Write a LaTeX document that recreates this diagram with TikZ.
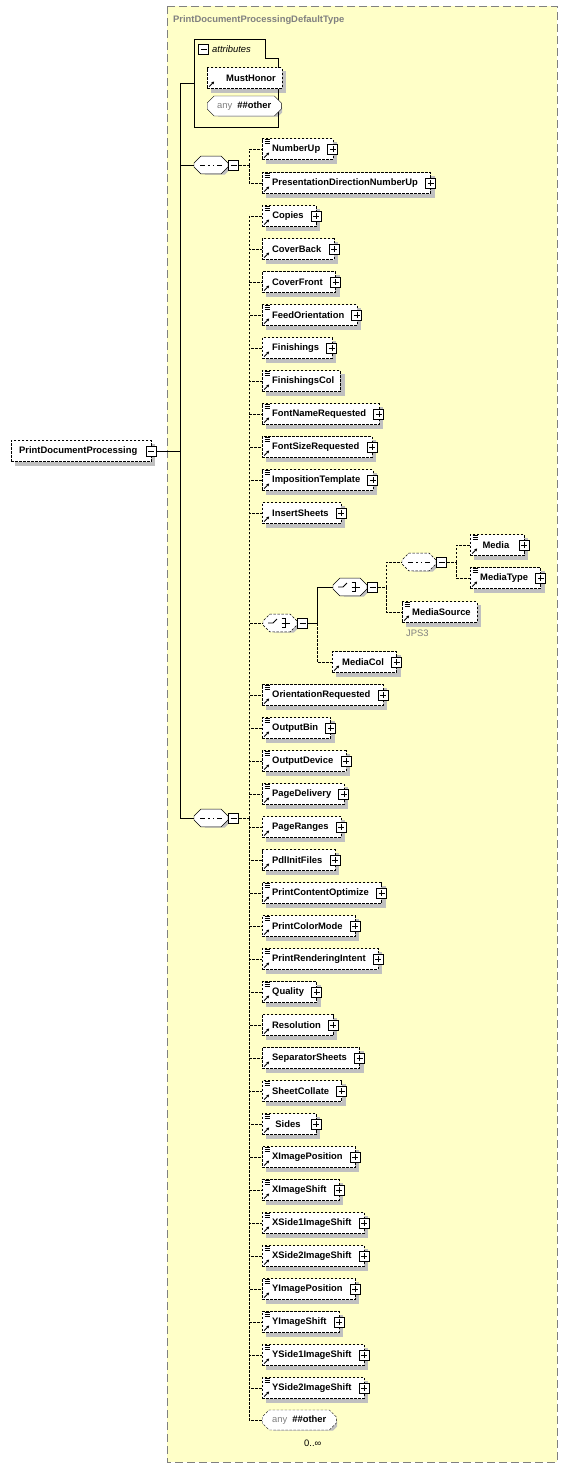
\documentclass[tikz,border=0pt]{standalone}
\usepackage{fontspec}
\newfontfamily\diagfont{Liberation Sans}
\usetikzlibrary{positioning}
\usetikzlibrary{shapes.misc}
\usetikzlibrary{arrows.meta}

\pgfdeclarelayer{back}
\pgfdeclarelayer{shadow}
\pgfsetlayers{back,shadow,main}

\definecolor{typebg}{RGB}{255,255,200}
\definecolor{shadegray}{RGB}{192,192,192}
\definecolor{framegray}{RGB}{128,128,128}

\newcommand{\elemfont}{\diagfont\bfseries\fontsize{9.4}{11}\selectfont}
\newcommand{\attrfont}{\diagfont\itshape\fontsize{9.4}{11}\selectfont}
\newcommand{\notefont}{\diagfont\fontsize{9.4}{11}\selectfont}

% little icons drawn inside the boxes
\newcommand{\refmark}{\draw[solid,line width=0.9pt,-{Triangle[length=2.6pt,width=2.8pt]}]
    ([shift={(2pt,2pt)}]path picture bounding box.south west) -- ++(5pt,5pt);}
\newcommand{\docmark}{\foreach \k in {0,1.7,3.4}
    \draw[solid,line width=0.7pt] ([shift={(2.5pt,-1.3pt-\k pt)}]path picture bounding box.north west) -- ++(5.5pt,0pt);}
\newcommand{\plusmark}{\draw[solid,line width=0.8pt]
    ([yshift=2pt]path picture bounding box.south) -- ([yshift=-2pt]path picture bounding box.north)
    ([xshift=2pt]path picture bounding box.west) -- ([xshift=-2pt]path picture bounding box.east);}
\newcommand{\minusmark}{\draw[solid,line width=0.8pt]
    ([xshift=2pt]path picture bounding box.west) -- ([xshift=-2pt]path picture bounding box.east);}
\newcommand{\seqmark}{\draw[solid,line width=0.8pt]
    ([xshift=-11pt]path picture bounding box.center) -- ([xshift=11pt]path picture bounding box.center);
  \foreach \k in {-4.5,0,4.5}
    \fill ([shift={(\k pt-1.5pt,-1.5pt)}]path picture bounding box.center) rectangle ++(3pt,3pt);}
\newcommand{\choicemark}{\draw[solid,line width=0.8pt]
    ([xshift=-12pt]path picture bounding box.center) -- ([xshift=-7pt]path picture bounding box.center)
    -- ([shift={(-3pt,4pt)}]path picture bounding box.center);
  \foreach \k in {-4.5,0,4.5}
    \fill ([shift={(-1.5pt,\k pt-1.5pt)}]path picture bounding box.center) rectangle ++(3pt,3pt);
  \draw[solid,line width=0.8pt]
    ([shift={(1.5pt,4.5pt)}]path picture bounding box.center) -| ([shift={(5pt,-4.5pt)}]path picture bounding box.center)
    -- ([shift={(1.5pt,-4.5pt)}]path picture bounding box.center)
    ([xshift=1.5pt]path picture bounding box.center) -- ([xshift=10pt]path picture bounding box.center);}

% grey shadow behind a box or an octagon
\newcommand{\boxshadow}[1]{\fill[shadegray] ([shift={(4pt,-4pt)}]#1.south west) rectangle ([shift={(4pt,-4pt)}]#1.north east);}
\newcommand{\octshadow}[1]{\fill[shadegray]
    ([shift={(8pt,-4pt)}]#1.north west) -- ([shift={(0pt,-4pt)}]#1.north east) -- ([shift={(4pt,-8pt)}]#1.north east)
    -- ([shift={(4pt,0pt)}]#1.south east) -- ([shift={(0pt,-4pt)}]#1.south east) -- ([shift={(8pt,-4pt)}]#1.south west)
    -- ([shift={(4pt,0pt)}]#1.south west) -- ([shift={(4pt,-8pt)}]#1.north west) -- cycle;}

\tikzset{
  optional/.style={dash pattern=on 2.5pt off 1.5pt},
  elembox/.style={draw,optional,fill=white,inner sep=0pt,minimum height=21pt,minimum width=54pt,
    anchor=west,font=\elemfont},
  plusbox/.style={draw,solid,fill=white,line width=1pt,minimum size=10pt,inner sep=0pt,
    path picture={\plusmark}},
  minusbox/.style={draw,solid,fill=white,line width=1pt,minimum size=10pt,inner sep=0pt,
    path picture={\minusmark}},
  more/.style={label={[plusbox,anchor=center]east:{}}},
  elem/.style={elembox,path picture={\refmark},execute at begin node={\hspace*{10pt}},
    execute at end node={\hspace*{12.5pt}},more},
  delem/.style={elem,path picture={\refmark\docmark}},
  leaf/.style={elembox,path picture={\refmark},execute at begin node={\hspace*{10pt}},
    execute at end node={\hspace*{6pt}}},
  dleaf/.style={leaf,path picture={\refmark\docmark}},
  rootelem/.style={elembox,minimum width=0pt,execute at begin node={\hspace*{8pt}},
    execute at end node={\hspace*{14pt}}},
  comp/.style={chamfered rectangle,chamfered rectangle xsep=4pt,draw,fill=white,
    inner sep=0pt,text width=26pt,text height=8pt,text depth=4pt},
  seqcomp/.style={comp,path picture={\seqmark}},
  choicecomp/.style={comp,path picture={\choicemark}},
  anynode/.style={chamfered rectangle,chamfered rectangle xsep=4pt,draw,fill=white,
    minimum height=20pt,inner sep=0pt,anchor=west,font=\elemfont,
    execute at begin node={\hspace*{6pt}},execute at end node={\hspace*{6pt}}},
  conn/.style={optional},
  tree/.style={solid},
  elbow/.style={to path={|- (\tikztotarget)}}
}

\begin{document}
\begin{tikzpicture}[x=1pt,y=-1pt,line width=0.8pt,label distance=0pt]
  \useasboundingbox (0,0) rectangle (567,1468);
  \begin{pgfonlayer}{back}
    \draw[framegray,fill=typebg,dash pattern=on 8pt off 4pt] (167,6) rectangle (557,1462);
  \end{pgfonlayer}
  \node[anchor=west,inner sep=0pt,text=framegray,font=\elemfont] (typetitle) at (173,20) {PrintDocumentProcessingDefaultType};

  % root element
  \node[rootelem] (pdp) at (11,451) {PrintDocumentProcessing};
  \node[minusbox] (pdpm) at (pdp.east) {};
  \coordinate (bus) at (180,451);

  % attributes
  \draw (194,127) -- (194,39) -- (265,39) -- (265,58) -- (278,58) -- (278,127) -- cycle;
  \coordinate (attrw) at (194,83);
  \node[minusbox] (attrm) at (203.5,49) {};
  \node[anchor=west,inner sep=0pt,font=\attrfont] (attrtitle) at (212,49) {attributes};
  \node[leaf,minimum width=66pt,execute at begin node={\hspace*{9pt}}] (musthonor) at (207,78) {MustHonor};
  \node[anynode,minimum width=66pt] (anyattr) at (207,106) {{\color{framegray}\mdseries any}\hspace{5pt}\#\#other};

  % first sequence
  \node[seqcomp] (seqA) at (211,165) {};
  \node[minusbox,anchor=west] (seqAm) at (seqA.east) {};
  \coordinate (busA) at (249,165);
  \node[delem] (numberup) at (262,149) {NumberUp};
  \node[delem] (presdirnumberup) at (262,183) {PresentationDirectionNumberUp};

  % second sequence
  \node[seqcomp] (seqB) at (211,818) {};
  \node[minusbox,anchor=west] (seqBm) at (seqB.east) {};
  \coordinate (busB) at (249,818);
  \node[delem] (copies) at (262,216) {Copies};
  \node[elem] (coverback) at (262,249) {CoverBack};
  \node[elem] (coverfront) at (262,282) {CoverFront};
  \node[delem] (feedorientation) at (262,315) {FeedOrientation};
  \node[elem] (finishings) at (262,348) {Finishings};
  \node[dleaf] (finishingscol) at (262,381) {FinishingsCol};
  \node[delem] (fontnamerequested) at (262,414) {FontNameRequested};
  \node[delem] (fontsizerequested) at (262,447) {FontSizeRequested};
  \node[delem] (impositiontemplate) at (262,480) {ImpositionTemplate};
  \node[elem] (insertsheets) at (262,513) {InsertSheets};

  % media choice
  \node[choicecomp,optional] (chA) at (280,623) {};
  \node[minusbox,anchor=west] (chAm) at (chA.east) {};
  \coordinate (busC) at (317,623);
  \node[choicecomp] (chB) at (350,587) {};
  \node[minusbox,anchor=west] (chBm) at (chB.east) {};
  \coordinate (busD) at (386,587);
  \node[seqcomp,optional] (seqC) at (419,562) {};
  \node[minusbox,anchor=west] (seqCm) at (seqC.east) {};
  \coordinate (busE) at (456,562);
  \node[delem] (media) at (470,545) {Media};
  \node[delem] (mediatype) at (470,578) {MediaType};
  \node[dleaf] (mediasource) at (402,612) {MediaSource};
  \node[anchor=west,inner sep=0pt,text=framegray,font=\notefont] (jps3) at (406,633) {JPS3};
  \node[elem] (mediacol) at (332,662) {MediaCol};

  \node[delem] (orientationrequested) at (262,695) {OrientationRequested};
  \node[delem] (outputbin) at (262,728) {OutputBin};
  \node[delem] (outputdevice) at (262,761) {OutputDevice};
  \node[delem] (pagedelivery) at (262,794) {PageDelivery};
  \node[elem] (pageranges) at (262,827) {PageRanges};
  \node[elem] (pdlinitfiles) at (262,860) {PdlInitFiles};
  \node[delem] (printcontentoptimize) at (262,893) {PrintContentOptimize};
  \node[delem] (printcolormode) at (262,926) {PrintColorMode};
  \node[delem] (printrenderingintent) at (262,959) {PrintRenderingIntent};
  \node[delem] (quality) at (262,992) {Quality};
  \node[elem] (resolution) at (262,1025) {Resolution};
  \node[elem] (separatorsheets) at (262,1058) {SeparatorSheets};
  \node[delem] (sheetcollate) at (262,1091) {SheetCollate};
  \node[delem] (sides) at (262,1124) {Sides};
  \node[delem] (ximageposition) at (262,1157) {XImagePosition};
  \node[delem] (ximageshift) at (262,1190) {XImageShift};
  \node[delem] (xsideoneshift) at (262,1223) {XSide1ImageShift};
  \node[delem] (xsidetwoshift) at (262,1256) {XSide2ImageShift};
  \node[delem] (yimageposition) at (262,1289) {YImagePosition};
  \node[delem] (yimageshift) at (262,1322) {YImageShift};
  \node[delem] (ysideoneshift) at (262,1355) {YSide1ImageShift};
  \node[delem] (ysidetwoshift) at (262,1388) {YSide2ImageShift};
  \node[anynode,optional,minimum width=71pt] (anyother) at (262,1420) {{\color{framegray}\mdseries any}\hspace{5pt}\#\#other};
  \node[anchor=west,inner sep=0pt,font=\notefont] (occurs) at (304,1443) {0..∞};

  % shadows
  \begin{pgfonlayer}{shadow}
    \foreach \n in {pdp,musthonor,numberup,presdirnumberup,copies,coverback,coverfront,
        feedorientation,finishings,finishingscol,fontnamerequested,fontsizerequested,
        impositiontemplate,insertsheets,media,mediatype,mediasource,mediacol,
        orientationrequested,outputbin,outputdevice,pagedelivery,pageranges,pdlinitfiles,
        printcontentoptimize,printcolormode,printrenderingintent,quality,resolution,
        separatorsheets,sheetcollate,sides,ximageposition,ximageshift,xsideoneshift,
        xsidetwoshift,yimageposition,yimageshift,ysideoneshift,ysidetwoshift}
      {\boxshadow{\n}}
    \foreach \n in {anyattr,seqA,seqB,chA,chB,seqC,anyother}
      {\octshadow{\n}}
  \end{pgfonlayer}

  % connectors
  \path[tree] (pdpm.east) edge (bus)
    (bus) edge[elbow] (attrw) edge[elbow] (seqA.west) edge[elbow] (seqB.west);
  \path[conn] (seqAm.east) edge (busA)
    (busA) edge[elbow] (numberup.west) edge[elbow] (presdirnumberup.west);
  \path[conn] (seqBm.east) edge (busB)
    (busB) edge[elbow] (copies.west) edge[elbow] (coverback.west) edge[elbow] (coverfront.west)
      edge[elbow] (feedorientation.west) edge[elbow] (finishings.west) edge[elbow] (finishingscol.west)
      edge[elbow] (fontnamerequested.west) edge[elbow] (fontsizerequested.west)
      edge[elbow] (impositiontemplate.west) edge[elbow] (insertsheets.west) edge[elbow] (chA.west)
      edge[elbow] (orientationrequested.west) edge[elbow] (outputbin.west) edge[elbow] (outputdevice.west)
      edge[elbow] (pagedelivery.west) edge[elbow] (pageranges.west) edge[elbow] (pdlinitfiles.west)
      edge[elbow] (printcontentoptimize.west) edge[elbow] (printcolormode.west)
      edge[elbow] (printrenderingintent.west) edge[elbow] (quality.west) edge[elbow] (resolution.west)
      edge[elbow] (separatorsheets.west) edge[elbow] (sheetcollate.west) edge[elbow] (sides.west)
      edge[elbow] (ximageposition.west) edge[elbow] (ximageshift.west) edge[elbow] (xsideoneshift.west)
      edge[elbow] (xsidetwoshift.west) edge[elbow] (yimageposition.west) edge[elbow] (yimageshift.west)
      edge[elbow] (ysideoneshift.west) edge[elbow] (ysidetwoshift.west) edge[elbow] (anyother.west);
  \path[tree] (chAm.east) edge (busC) (busC) edge[elbow] (chB.west);
  \path[conn] (busC) edge[elbow] (mediacol.west);
  \path[conn] (chBm.east) edge (busD)
    (busD) edge[elbow] (seqC.west) edge[elbow] (mediasource.west);
  \path[conn] (seqCm.east) edge (busE)
    (busE) edge[elbow] (media.west) edge[elbow] (mediatype.west);
\end{tikzpicture}
\end{document}
